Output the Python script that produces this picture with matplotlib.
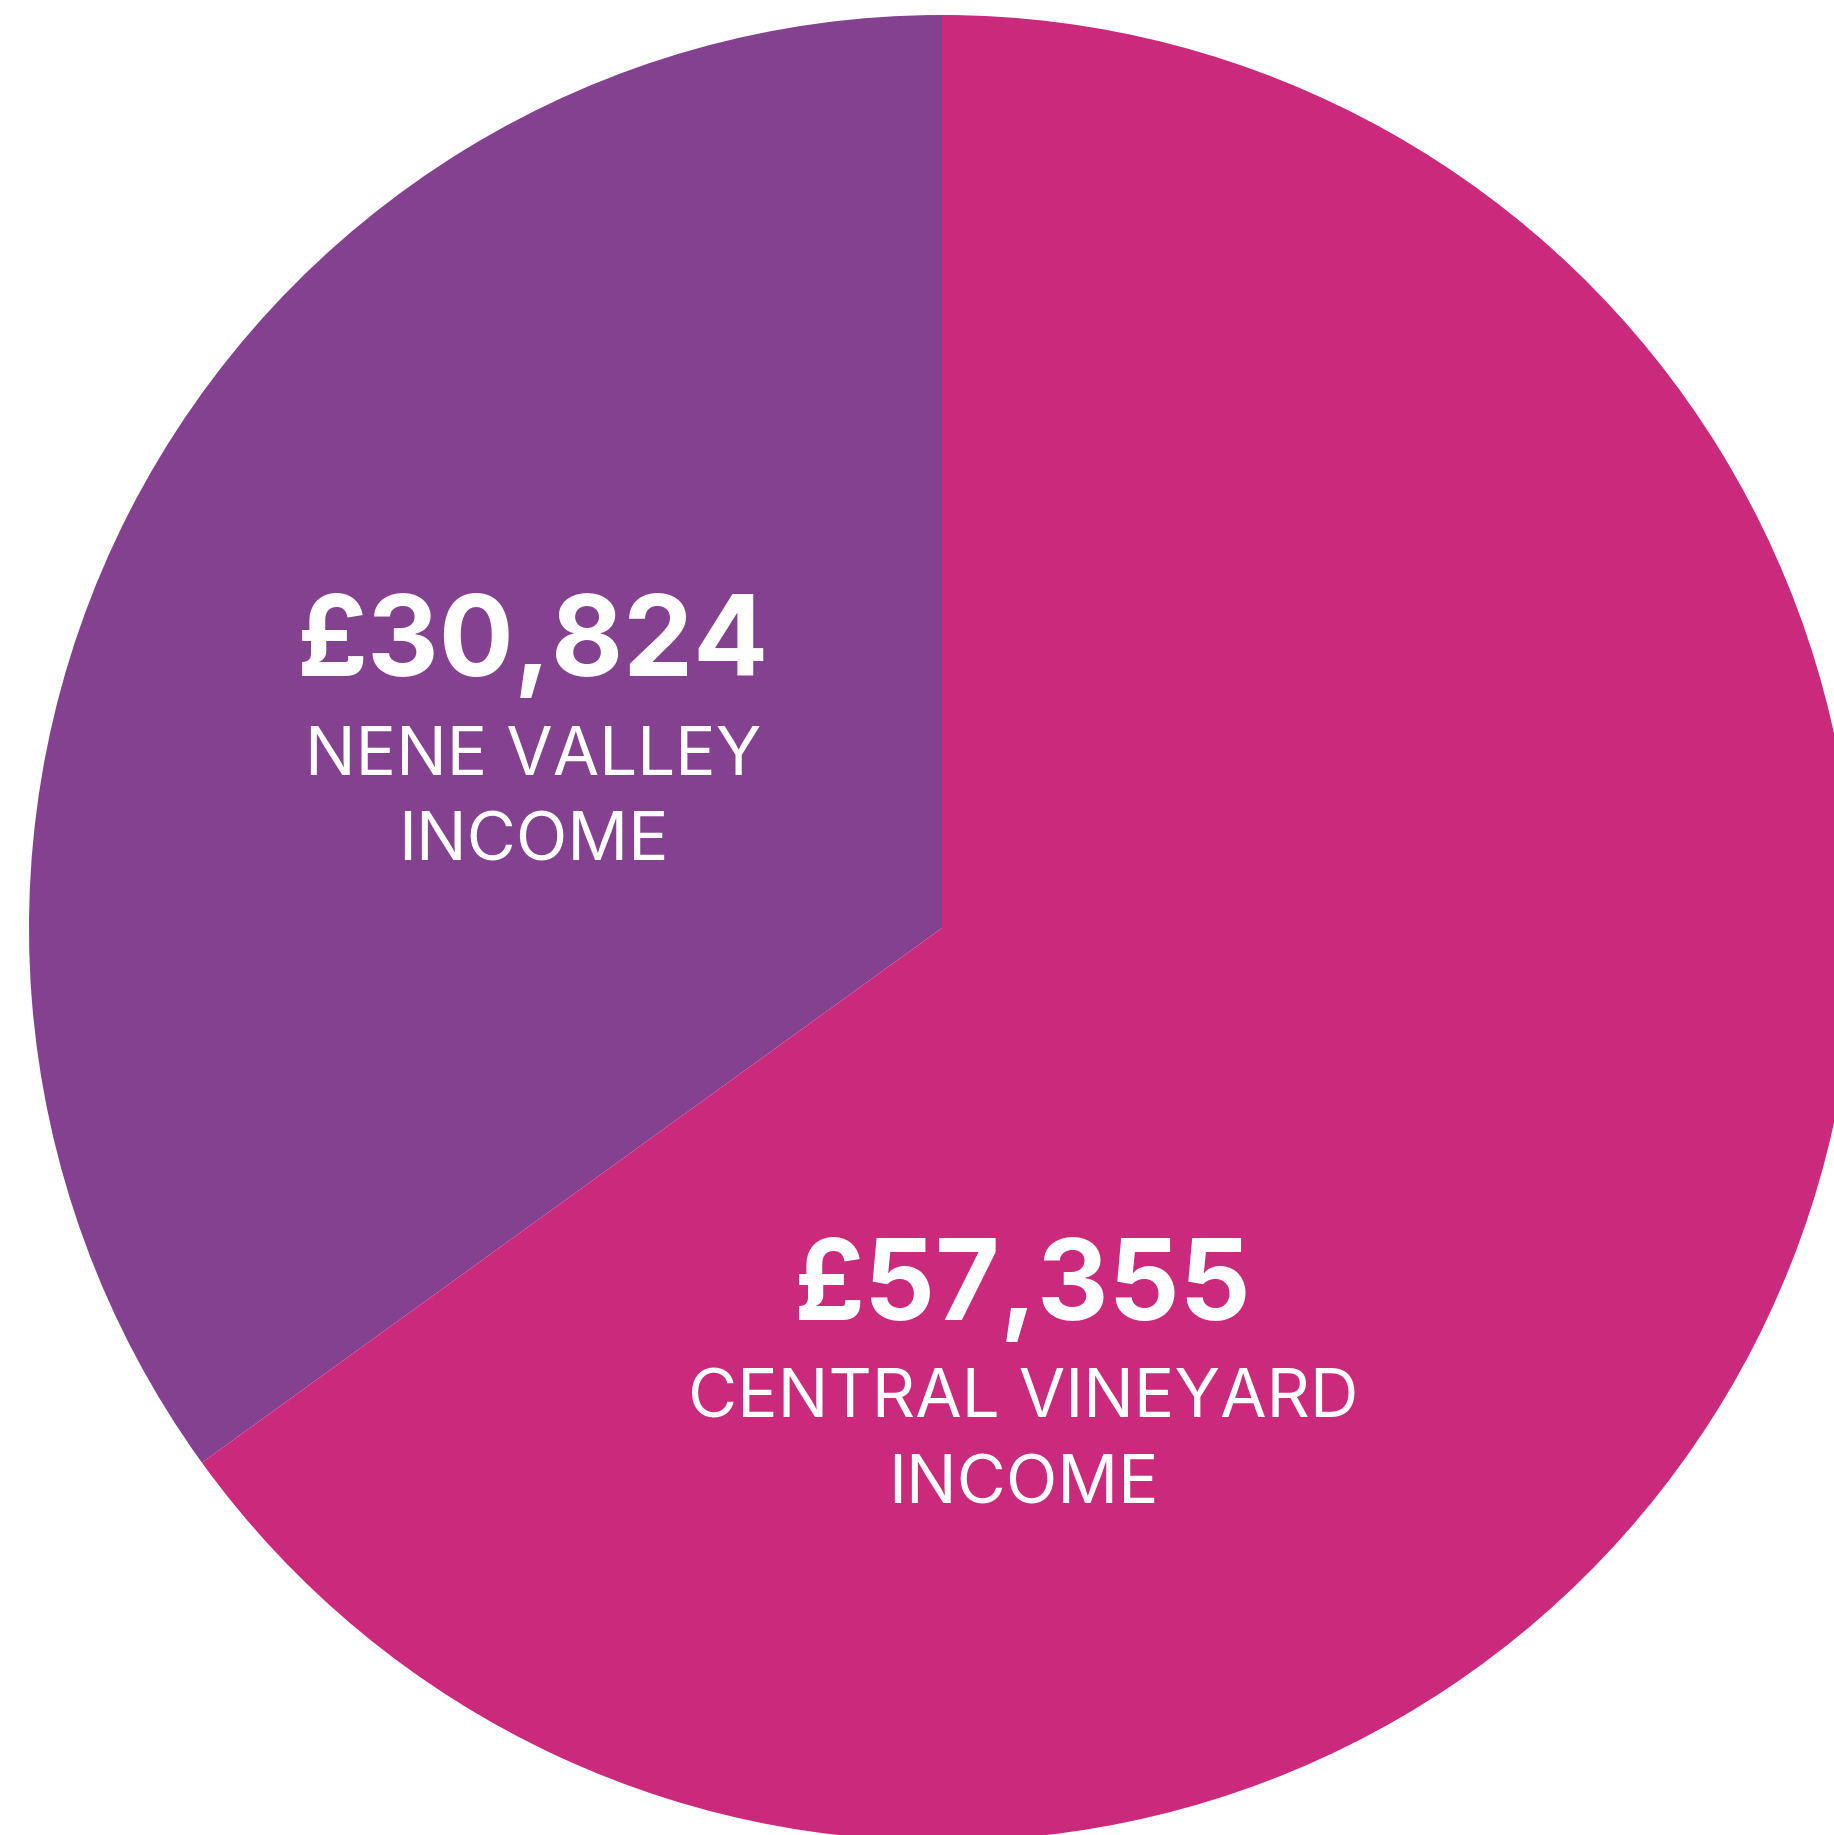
import matplotlib
matplotlib.use("Agg")
import matplotlib.pyplot as plt

categories = ["NENE VALLEY\nINCOME", "CENTRAL VINEYARD\nINCOME"]
values = [30824, 57355]
value_labels = ["£30,824", "£57,355"]
colors = ["#84418F", "#CB297B"]

W, H = 1834, 1835
fig = plt.figure(figsize=(W / 100, H / 100), dpi=100)
ax = fig.add_axes([0, 0, 1, 1])

ax.pie(values, colors=colors, startangle=90, counterclock=True,
       center=(942, H - 928), radius=913, frame=True,
       wedgeprops=dict(linewidth=0, antialiased=True))
ax.set_xlim(0, W)
ax.set_ylim(0, H)
ax.set_aspect("equal")
ax.axis("off")

# label positions (pixel coords, y from bottom)
num_pos = [(533, H - 676), (1023, H - 1320)]
lab_pos = [[(533, H - 775), (533, H - 860)], [(1023, H - 1417), (1023, H - 1503)]]

for i in range(len(values)):
    ax.text(num_pos[i][0], num_pos[i][1], value_labels[i], color="white",
            fontsize=80, fontweight="bold", family="Inter",
            ha="center", va="baseline")
    for j, line in enumerate(categories[i].split("\n")):
        ax.text(lab_pos[i][j][0], lab_pos[i][j][1], line, color="white",
                fontsize=48.5, family="Inter", ha="center", va="baseline")

fig.savefig("out.png", dpi=100)
